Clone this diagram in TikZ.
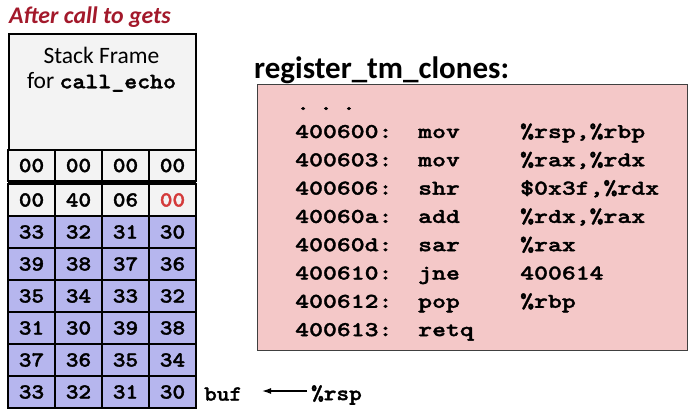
\documentclass[tikz,border=0pt]{standalone}
\usepackage{fontspec}
\setmainfont{Carlito}
\newfontfamily\cellfont{lmmonolt10-bold}[Extension=.otf, FakeStretch=1.12, FakeBold=1.6]
\newfontfamily\codefont{lmmonolt10-bold}[Extension=.otf, FakeStretch=1.26, FakeBold=1.6]
\usetikzlibrary{arrows.meta}
\definecolor{titlered}{HTML}{A3192B}
\definecolor{cellblue}{HTML}{B6B6EE}
\definecolor{cellwhite}{HTML}{F3F3F3}
\definecolor{codepink}{HTML}{F4C8C8}
\definecolor{redtxt}{HTML}{D43A3A}
\tikzset{
  cellw/.style={draw=black, line width=1.6pt, fill=cellwhite, minimum width=47pt, minimum height=32pt, inner sep=0pt, font=\cellfont\fontsize{21.5}{21.5}\selectfont},
  cellb/.style={cellw, fill=cellblue},
  code/.style={anchor=base west, inner sep=0pt, font=\codefont\fontsize{21}{21}\selectfont},
}
\begin{document}
\begin{tikzpicture}[x=1pt,y=-1pt]
\useasboundingbox (0,0) rectangle (700,414);
\fill[white] (0,0) rectangle (700,414);
% title
\node[anchor=west, inner sep=0pt, text=titlered, font=\bfseries\itshape\fontsize{23.8}{23.8}\selectfont] (title) at (9,17) {After call to gets};
% stack frame
\node[draw=black, line width=1.6pt, fill=cellwhite, minimum width=187pt, minimum height=118pt, inner sep=0pt, anchor=north west] (frame) at (8,33) {};
\node[inner sep=0pt, font=\fontsize{23.5}{23.5}\selectfont] (frametxt1) at (101.5,55) {Stack Frame};
\node[inner sep=0pt, font=\fontsize{23.5}{23.5}\selectfont] (frametxt2) at (101.5,82) {for {\cellfont\fontsize{22}{22}\selectfont call\_echo}};
% row 0
\node[cellw, minimum height=31pt] (c00) at (31.5,165.5) {00};
\node[cellw, minimum height=31pt] (c01) at (78.5,165.5) {00};
\node[cellw, minimum height=31pt] (c02) at (125.5,165.5) {00};
\node[cellw, minimum height=31pt] (c03) at (172.5,165.5) {00};
% row 1
\node[cellw] (c10) at (31.5,200) {00};
\node[cellw] (c11) at (78.5,200) {40};
\node[cellw] (c12) at (125.5,200) {06};
\node[cellw, text=redtxt] (c13) at (172.5,200) {00};
\draw[line width=2.5pt] (8,182.5) -- (196,182.5);
% blue rows
\node[cellb] (c20) at (31.5,232) {33};
\node[cellb] (c21) at (78.5,232) {32};
\node[cellb] (c22) at (125.5,232) {31};
\node[cellb] (c23) at (172.5,232) {30};
\node[cellb] (c30) at (31.5,264) {39};
\node[cellb] (c31) at (78.5,264) {38};
\node[cellb] (c32) at (125.5,264) {37};
\node[cellb] (c33) at (172.5,264) {36};
\node[cellb] (c40) at (31.5,296) {35};
\node[cellb] (c41) at (78.5,296) {34};
\node[cellb] (c42) at (125.5,296) {33};
\node[cellb] (c43) at (172.5,296) {32};
\node[cellb] (c50) at (31.5,328) {31};
\node[cellb] (c51) at (78.5,328) {30};
\node[cellb] (c52) at (125.5,328) {39};
\node[cellb] (c53) at (172.5,328) {38};
\node[cellb] (c60) at (31.5,360) {37};
\node[cellb] (c61) at (78.5,360) {36};
\node[cellb] (c62) at (125.5,360) {35};
\node[cellb] (c63) at (172.5,360) {34};
\node[cellb] (c70) at (31.5,392) {33};
\node[cellb] (c71) at (78.5,392) {32};
\node[cellb] (c72) at (125.5,392) {31};
\node[cellb] (c73) at (172.5,392) {30};
% buf and rsp
\node[anchor=west, inner sep=0pt, font=\cellfont\fontsize{21.5}{21.5}\selectfont] (buf) at (204,394) {buf};
\node[anchor=west, inner sep=0pt, font=\cellfont\fontsize{21.5}{21.5}\selectfont] (rsp) at (311,395) {\%rsp};
\draw[-{Latex[length=9pt,width=6pt]}, line width=1.3pt] (rsp.west) ++(-4,-4) coordinate (arrstart) -- (262,391) coordinate (arrend);
% code block
\node[anchor=west, inner sep=0pt, font=\bfseries\fontsize{31}{31}\selectfont] (codetitle) at (254,70) {register\_tm\_clones:};
\node[draw=black!75, line width=1pt, fill=codepink, minimum width=430pt, minimum height=266pt, inner sep=0pt, anchor=north west] (codebox) at (257,84) {};
\node[code] (dots) at (296,110) {.\hspace{9pt}.\hspace{9pt}.};
\node[code] (a1) at (295,138) {400600:};
\node[code] (m1) at (418,138) {mov};
\node[code] (o1) at (520,138) {\%rsp,\%rbp};
\node[code] (a2) at (295,166.3) {400603:};
\node[code] (m2) at (418,166.3) {mov};
\node[code] (o2) at (520,166.3) {\%rax,\%rdx};
\node[code] (a3) at (295,194.6) {400606:};
\node[code] (m3) at (418,194.6) {shr};
\node[code] (o3) at (520,194.6) {\$0x3f,\%rdx};
\node[code] (a4) at (295,222.9) {40060a:};
\node[code] (m4) at (418,222.9) {add};
\node[code] (o4) at (520,222.9) {\%rdx,\%rax};
\node[code] (a5) at (295,251.2) {40060d:};
\node[code] (m5) at (418,251.2) {sar};
\node[code] (o5) at (520,251.2) {\%rax};
\node[code] (a6) at (295,279.5) {400610:};
\node[code] (m6) at (418,279.5) {jne};
\node[code] (o6) at (520,279.5) {400614};
\node[code] (a7) at (295,307.8) {400612:};
\node[code] (m7) at (418,307.8) {pop};
\node[code] (o7) at (520,307.8) {\%rbp};
\node[code] (a8) at (295,336.1) {400613:};
\node[code] (m8) at (418,336.1) {retq};
\end{tikzpicture}
\end{document}
